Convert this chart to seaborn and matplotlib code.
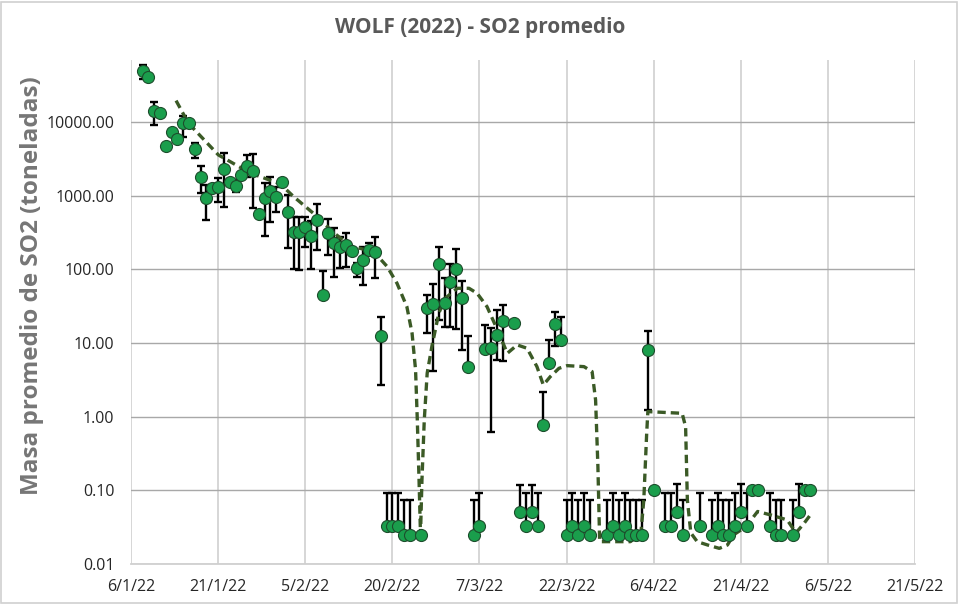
import numpy as np
import pandas as pd
import matplotlib
matplotlib.use("Agg")
import matplotlib.pyplot as plt
import matplotlib.dates as mdates
from matplotlib.patches import Rectangle
import seaborn as sns

# ---------------- data ----------------
dates = ["2022-01-08", "2022-01-09", "2022-01-10", "2022-01-11", "2022-01-12", "2022-01-13",
         "2022-01-14", "2022-01-15", "2022-01-16", "2022-01-17", "2022-01-18", "2022-01-19",
         "2022-01-20", "2022-01-21", "2022-01-22", "2022-01-23", "2022-01-24", "2022-01-25",
         "2022-01-26", "2022-01-27", "2022-01-28", "2022-01-29", "2022-01-30", "2022-01-31",
         "2022-02-01", "2022-02-02", "2022-02-03", "2022-02-04", "2022-02-05", "2022-02-06",
         "2022-02-07", "2022-02-08", "2022-02-09", "2022-02-10", "2022-02-11", "2022-02-12",
         "2022-02-13", "2022-02-14", "2022-02-15", "2022-02-16", "2022-02-17", "2022-02-18",
         "2022-02-19", "2022-02-20", "2022-02-21", "2022-02-22", "2022-02-23", "2022-02-25",
         "2022-02-26", "2022-02-27", "2022-02-28", "2022-03-01", "2022-03-02", "2022-03-03",
         "2022-03-04", "2022-03-05", "2022-03-06", "2022-03-07", "2022-03-08", "2022-03-09",
         "2022-03-10", "2022-03-11", "2022-03-13", "2022-03-14", "2022-03-15", "2022-03-16",
         "2022-03-17", "2022-03-18", "2022-03-19", "2022-03-20", "2022-03-21", "2022-03-22",
         "2022-03-23", "2022-03-24", "2022-03-25", "2022-03-26", "2022-03-29", "2022-03-30",
         "2022-03-31", "2022-04-01", "2022-04-02", "2022-04-03", "2022-04-04", "2022-04-05",
         "2022-04-06", "2022-04-08", "2022-04-09", "2022-04-10", "2022-04-11", "2022-04-14",
         "2022-04-16", "2022-04-17", "2022-04-18", "2022-04-19", "2022-04-20", "2022-04-21",
         "2022-04-22", "2022-04-23", "2022-04-24", "2022-04-26", "2022-04-27", "2022-04-28",
         "2022-04-30", "2022-05-01", "2022-05-02", "2022-05-03"]

so2_mean = [49200, 41200, 14100, 13100, 4720, 7310,
            5820, 9600, 9600, 4260, 1810, 920,
            1280, 1320, 2300, 1550, 1360, 1910,
            2530, 2180, 564, 920, 1170, 968,
            1550, 606, 316, 316, 379, 283,
            467, 44.8, 314, 225, 199, 214,
            179, 103, 134, 185, 173, 12.6,
            0.033, 0.033, 0.033, 0.025, 0.025, 0.025,
            29.6, 33.8, 117, 35.2, 67.9, 101,
            40.4, 4.77, 0.025, 0.033, 8.29, 8.47,
            12.8, 19.9, 18.5, 0.05, 0.033, 0.05,
            0.033, 0.77, 5.3, 18.1, 11.0, 0.025,
            0.033, 0.025, 0.033, 0.025, 0.025, 0.033,
            0.025, 0.033, 0.025, 0.025, 0.025, 8.03,
            0.1, 0.033, 0.033, 0.05, 0.025, 0.033,
            0.025, 0.033, 0.025, 0.025, 0.033, 0.05,
            0.033, 0.1, 0.1, 0.033, 0.025, 0.025,
            0.025, 0.05, 0.1, 0.1]

N = None
err_low = [38300, N, 9100, N, N, N,
           N, 6310, N, 3240, 1090, 467,
           N, 820, 708, N, 1130, N,
           1810, 680, N, 283, 443, 606,
           N, 193, 100, 98, 203, 100,
           183, N, 156, 79.4, 103, 109,
           N, 79.4, 61.2, N, 75.5, 2.69,
           N, N, N, N, N, N,
           13.5, 4.17, 20.5, 16.6, 16.6, 15.3,
           8.04, N, N, N, N, 0.62,
           5.87, 5.75, N, N, N, N,
           N, N, N, 9.1, N, N,
           N, N, N, N, N, N,
           N, N, N, N, N, 1.23,
           N, N, N, N, N, N,
           N, N, N, N, N, N,
           N, N, N, N, N, N,
           N, N, N, N]

err_high = [59300, N, 18800, N, N, N,
            N, 12050, N, 5140, 2530, 1400,
            N, 1720, 3760, N, 1630, N,
            3560, 3670, N, 1500, 1810, 1300,
            N, 1020, 518, 518, 518, 457,
            764, 95.8, 478, 360, 277, 314,
            N, 121, 199, 225, 277, 22.2,
            0.091, 0.091, 0.091, 0.074, 0.074, N,
            44.8, 63.2, 199, 75.5, 117, 187,
            70.1, 12.4, 0.074, 0.091, 17.5, 15.8,
            28.1, 32.8, N, 0.118, 0.091, 0.118,
            0.091, 2.16, 11.0, 26.6, 22.7, 0.074,
            0.091, 0.074, 0.091, 0.074, 0.074, 0.091,
            0.074, 0.091, 0.074, 0.074, 0.074, 14.7,
            N, 0.091, 0.091, 0.122, 0.074, 0.091,
            0.074, 0.091, 0.074, 0.074, 0.091, 0.122,
            0.091, N, N, 0.091, 0.074, 0.074,
            0.074, 0.122, N, N]

# dashed trend line (days after 6/1/22, value)
trend_start = "2022-01-06"
trend_day = [7.76, 9.88, 15.05, 20.5, 25.7, 28.0, 31.4, 34.9, 37.8, 41.8,
             44.1, 45.8, 47.5, 48.4, 49.0, 49.3, 49.6, 49.85, 50.1, 50.5,
             51.0, 51.8, 53.0, 54.1, 56.2, 58.2, 59.6, 61.3, 63.1, 64.8,
             66.5, 68.2, 69.9, 71.0, 72.2, 73.7, 75.1, 78.0, 79.4, 80.0,
             80.4, 80.7, 86.0, 87.8, 88.3, 88.8, 89.0, 94.9, 95.5, 95.8,
             96.4, 97.5, 99.3, 101.3, 102.7, 103.8, 105.9, 107.9, 110.2, 113.0,
             114.5, 115.9, 117.1]
trend_val = [19450, 9600, 3560, 2030, 1440, 968, 575, 314, 207, 173,
             109, 64.6, 31.1, 13.5, 4.3, 0.9, 0.138, 0.025, 0.138, 0.9,
             3.88, 8.9, 25.3, 40.4, 55.2, 55.2, 47.2, 31.1, 15.0, 7.24,
             9.4, 8.47, 4.77, 2.69, 3.49, 4.53, 4.92, 4.77, 4.08, 1.68,
             0.209, 0.0201, 0.0201, 0.0264, 0.074, 0.6, 1.17, 1.11, 0.73, 0.074,
             0.0264, 0.0201, 0.0181, 0.0163, 0.0181, 0.025, 0.0321, 0.0516, 0.0462, 0.0396,
             0.0264, 0.0357, 0.0477]

xtick_dates = ["2022-01-06", "2022-01-21", "2022-02-05", "2022-02-20", "2022-03-07",
               "2022-03-22", "2022-04-06", "2022-04-21", "2022-05-06", "2022-05-21"]
xtick_labels = ["6/1/22", "21/1/22", "5/2/22", "20/2/22", "7/3/22",
                "22/3/22", "6/4/22", "21/4/22", "6/5/22", "21/5/22"]
ytick_vals = [0.01, 0.1, 1, 10, 100, 1000, 10000]

title = "WOLF (2022) - SO2 promedio"
ylabel = "Masa promedio de SO2 (toneladas)"

# ---------------- build frames ----------------
df = pd.DataFrame({"fecha": pd.to_datetime(dates), "so2": so2_mean,
                   "lo": [np.nan if v is None else v for v in err_low],
                   "hi": [np.nan if v is None else v for v in err_high]})
tr = pd.DataFrame({"fecha": pd.Timestamp(trend_start) + pd.to_timedelta(trend_day, unit="D"),
                   "so2": trend_val})

# ---------------- plot ----------------
sns.set_theme(style="white")
plt.rcParams["font.family"] = ["Open Sans", "DejaVu Sans"]

W, H = 960, 606
fig = plt.figure(figsize=(W / 100, H / 100), dpi=100)
ax = fig.add_axes([131 / W, 1 - 564 / H, (915 - 131) / W, (564 - 60) / H])
ax.set_yscale("log")

# error bars
eb = df[df["hi"].notna() | df["lo"].notna()]
xnum = mdates.date2num(eb["fecha"])
lower = (eb["so2"] - eb["lo"].fillna(eb["so2"])).values
upper = (eb["hi"].fillna(eb["so2"]) - eb["so2"]).values
ax.errorbar(xnum, eb["so2"].values, yerr=[lower, upper], fmt="none",
            ecolor="black", elinewidth=1.7, capsize=2.8, capthick=1.7, zorder=2)

# trend line
sns.lineplot(data=tr, x="fecha", y="so2", ax=ax, color="#3b5a26", linewidth=2.4,
             linestyle=(0, (2.5, 1.5)), sort=False, zorder=3, estimator=None)

# points
sns.scatterplot(data=df, x="fecha", y="so2", ax=ax, s=75, color="#1a9e4c",
                edgecolor="#1d4d2c", linewidth=0.8, zorder=4)

ax.set_xlim(pd.Timestamp(xtick_dates[0]), pd.Timestamp(xtick_dates[-1]))
ax.set_ylim(0.01, 10 ** 4.84)

ax.set_xticks(pd.to_datetime(xtick_dates))
ax.set_xticklabels(xtick_labels, fontsize=11.5, color="#262626")
ax.set_yticks(ytick_vals)
ax.set_yticklabels([f"{v:.2f}" for v in ytick_vals], fontsize=11.5, color="#262626")
ax.yaxis.set_minor_locator(matplotlib.ticker.NullLocator())
ax.tick_params(axis="x", length=5, width=1, color="#d0d0d0", pad=6)
ax.tick_params(axis="y", length=0, pad=12)

ax.grid(True, axis="y", color="#a8a8a8", linewidth=1.0)
ax.grid(True, axis="x", color="#d3d3d3", linewidth=1.3)
for s in ["top", "right", "left"]:
    ax.spines[s].set_visible(False)
ax.spines["bottom"].set_color("#d0d0d0")
ax.spines["bottom"].set_linewidth(1.3)
ax.set_xlabel("")
ax.set_ylabel("")

fig.text(480 / W, 1 - 28 / H, title, ha="center", va="center", fontsize=15,
         fontweight="bold", color="#595959")
fig.text(32 / W, 1 - 286 / H, ylabel, ha="center", va="center", rotation=90,
         fontsize=17.5, fontweight="bold", color="#767676")

fig.patches.append(Rectangle((1 / W, 3 / H), (957 - 1) / W, (H - 5) / H,
                             transform=fig.transFigure, fill=False,
                             edgecolor="#d0d0d0", linewidth=1.2))

fig.savefig("out.png", dpi=100)
